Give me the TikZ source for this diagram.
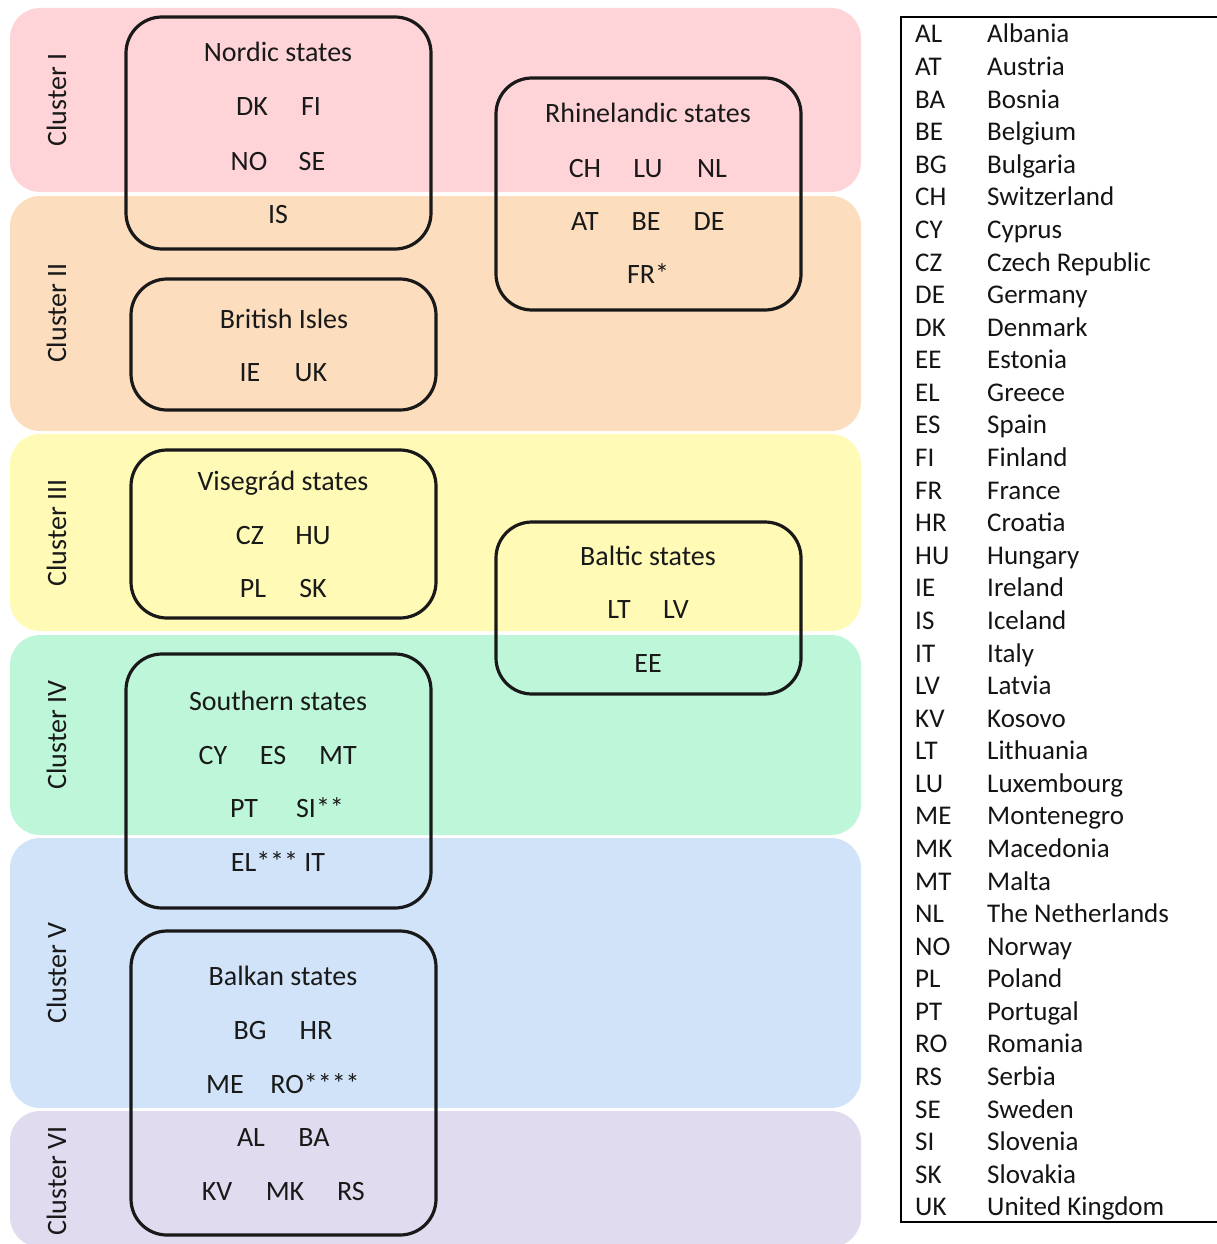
\documentclass[tikz,border=0pt]{standalone}
\usepackage{fontspec}
\setmainfont{Carlito}
\begin{document}
\begin{tikzpicture}[x=1pt,y=-1pt,
  band/.style={draw=none,rounded corners=30pt,inner sep=0pt,minimum width=851pt},
  grp/.style={draw=black!90,line width=3.2pt,rounded corners=36pt,inner sep=0pt,minimum width=305pt},
  txt/.style={anchor=base,inner sep=0pt,text=black!90,font=\fontsize{28}{33}\selectfont},
  clab/.style={anchor=base,inner sep=0pt,rotate=90,text=black!90,font=\fontsize{28}{33}\selectfont},
  leg/.style={anchor=base west,inner sep=0pt,text=black!92,font=\fontsize{27}{32}\selectfont}]
\definecolor{cI}{RGB}{255,212,217}
\definecolor{cII}{RGB}{252,221,190}
\definecolor{cIII}{RGB}{255,251,182}
\definecolor{cIV}{RGB}{190,246,217}
\definecolor{cV}{RGB}{208,227,249}
\definecolor{cVI}{RGB}{224,219,238}
\useasboundingbox (0,0) rectangle (1216,1244);

% cluster bands
\node[band,fill=cI,  minimum height=184pt] (b1) at (435.5,100) {};
\node[band,fill=cII, minimum height=235pt] (b2) at (435.5,313.5) {};
\node[band,fill=cIII,minimum height=197pt] (b3) at (435.5,532.5) {};
\node[band,fill=cIV, minimum height=200pt] (b4) at (435.5,735) {};
\node[band,fill=cV,  minimum height=270pt] (b5) at (435.5,973) {};
\node[band,fill=cVI, minimum height=136pt] (b6) at (435.5,1179) {};

% cluster labels (rotated)
\node[clab] (l1) at (66,100) {Cluster I};
\node[clab] (l2) at (66,313) {Cluster II};
\node[clab] (l3) at (66,533) {Cluster III};
\node[clab] (l4) at (66,735) {Cluster IV};
\node[clab] (l5) at (66,973) {Cluster V};
\node[clab] (l6) at (66,1181) {Cluster VI};

% country groups
\node[grp,minimum height=232pt] (nordic) at (278.5,133) {};
\node[grp,minimum height=232pt] (rhine)  at (648.5,194) {};
\node[grp,minimum height=131pt] (brit)   at (283.5,344.5) {};
\node[grp,minimum height=168pt] (vise)   at (283.5,534) {};
\node[grp,minimum height=172pt] (baltic) at (648.5,608) {};
\node[grp,minimum height=254pt] (south)  at (278.5,781) {};
\node[grp,minimum height=304pt] (balkan) at (283.5,1083) {};

% group contents
\node[txt] (tNordic) at (278,62) {Nordic states};
\node[txt] (tDK) at (252,116) {DK};
\node[txt] (tFI) at (311,116) {FI};
\node[txt] (tNO) at (249,170) {NO};
\node[txt] (tSE) at (312,170) {SE};
\node[txt] (tIS) at (278,223) {IS};

\node[txt] (tRhine) at (648,123) {Rhinelandic states};
\node[txt] (tCH) at (585,177) {CH};
\node[txt] (tLU) at (648,177) {LU};
\node[txt] (tNL) at (712,177) {NL};
\node[txt] (tAT) at (585,230) {AT};
\node[txt] (tBE) at (646,230) {BE};
\node[txt] (tDE) at (709,230) {DE};
\node[txt] (tFR) at (648,283) {FR*};

\node[txt] (tBrit) at (284,328) {British Isles};
\node[txt] (tIE) at (250,381) {IE};
\node[txt] (tUK) at (311,381) {UK};

\node[txt] (tVise) at (283,490) {Visegrád states};
\node[txt] (tCZ) at (250,544) {CZ};
\node[txt] (tHU) at (313,544) {HU};
\node[txt] (tPL) at (253,597) {PL};
\node[txt] (tSK) at (313,597) {SK};

\node[txt] (tBaltic) at (648,565) {Baltic states};
\node[txt] (tLT) at (619,618) {LT};
\node[txt] (tLV) at (676,618) {LV};
\node[txt] (tEE) at (648,672) {EE};

\node[txt] (tSouth) at (278,710) {Southern states};
\node[txt] (tCY) at (213,764) {CY};
\node[txt] (tES) at (273,764) {ES};
\node[txt] (tMT) at (338,764) {MT};
\node[txt] (tPT) at (244,817) {PT};
\node[txt] (tSI) at (320,817) {SI**};
\node[txt] (tELIT) at (278,871) {EL*** IT};

\node[txt] (tBalkan) at (283,985) {Balkan states};
\node[txt] (tBG) at (250,1039) {BG};
\node[txt] (tHR) at (316,1039) {HR};
\node[txt] (tME) at (225,1093) {ME};
\node[txt] (tRO) at (315,1093) {RO****};
\node[txt] (tAL) at (251,1146) {AL};
\node[txt] (tBA) at (314,1146) {BA};
\node[txt] (tKV) at (217,1200) {KV};
\node[txt] (tMK) at (285,1200) {MK};
\node[txt] (tRS) at (351,1200) {RS};

% legend frame (right side runs off the page)
\coordinate (fTR) at (1220,17);
\coordinate (fTL) at (901,17);
\coordinate (fBL) at (901,1222);
\coordinate (fBR) at (1220,1222);
\draw[line width=2pt,black] (fTR) -- (fTL) -- (fBL) -- (fBR);

% legend entries
\foreach \ab/\nm [count=\i from 0] in {AL/Albania,AT/Austria,BA/Bosnia,BE/Belgium,BG/Bulgaria,
  CH/Switzerland,CY/Cyprus,CZ/Czech Republic,DE/Germany,DK/Denmark,EE/Estonia,EL/Greece,
  ES/Spain,FI/Finland,FR/France,HR/Croatia,HU/Hungary,IE/Ireland,IS/Iceland,IT/Italy,
  LV/Latvia,KV/Kosovo,LT/Lithuania,LU/Luxembourg,ME/Montenegro,MK/Macedonia,MT/Malta,
  NL/The Netherlands,NO/Norway,PL/Poland,PT/Portugal,RO/Romania,RS/Serbia,SE/Sweden,
  SI/Slovenia,SK/Slovakia,UK/United Kingdom}{
  \node[leg] (ab\i) at (915,{43+32.58*\i}) {\ab};
  \node[leg] (nm\i) at (987,{43+32.58*\i}) {\nm};
}
\end{tikzpicture}
\end{document}
